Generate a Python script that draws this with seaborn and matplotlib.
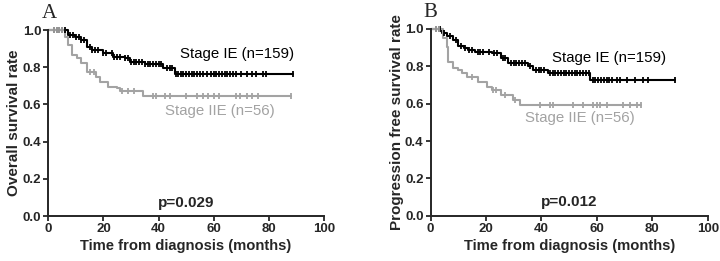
import pandas as pd
import matplotlib
matplotlib.use('Agg')
import matplotlib.pyplot as plt
import seaborn as sns
import numpy as np

sns.set_style('ticks')
plt.rcParams['font.family'] = ['Liberation Sans', 'DejaVu Sans']

# Panel A - overall survival
a_ie_times = [0, 7, 9.7, 12, 14, 15.7, 19.8, 23.5, 27.8, 29.6, 35, 41.5, 46]
a_ie_surv = [1.0, 0.975, 0.96, 0.946, 0.91, 0.89, 0.875, 0.857, 0.848, 0.83, 0.815, 0.797, 0.766]
a_ie_cens = [2, 3, 4, 5, 6, 8, 9, 10, 11, 12, 13, 15, 16, 17, 18, 20, 21, 23, 24, 25, 26, 28, 29,
             30, 31, 32, 33, 34, 35, 36, 37, 38, 39, 40, 41, 43, 44, 45, 46.5, 47, 48, 49, 50, 51,
             52, 53, 54, 55, 56, 57.5, 59, 60, 61, 62, 63, 64, 65, 66, 67, 68, 70, 72, 74,
             75.5, 78, 79, 88.8]
a_iie_times = [0, 6, 7.2, 8.5, 10.3, 12, 14, 17.5, 18.7, 21.6, 24.8, 26, 34.5]
a_iie_surv = [1.0, 0.96, 0.92, 0.866, 0.85, 0.82, 0.776, 0.75, 0.72, 0.695, 0.686, 0.674, 0.647]
a_iie_cens = [2, 3, 4, 5, 15, 16.5, 26.6, 29, 31, 38, 39, 42.5, 44, 50, 54, 56, 58, 60, 62,
              68, 69.5, 72, 74, 76, 88]

# Panel B - progression free survival
b_ie_times = [0, 4, 6, 8, 10, 12, 13.5, 16, 22, 25.5, 28, 35, 37, 42.4, 57.5]
b_ie_surv = [1.0, 0.98, 0.96, 0.94, 0.91, 0.90, 0.886, 0.878, 0.87, 0.843, 0.817, 0.80, 0.78, 0.763, 0.728]
b_ie_cens = [2, 3, 3.5, 5, 7, 9, 11, 12.5, 14, 15, 17, 18, 19, 21, 23, 24, 26, 27, 29, 30, 31,
             32, 33, 34, 36, 38, 39, 40, 41, 43, 44, 45, 46, 47, 48, 49, 50, 51, 52, 53, 54,
             55, 56, 57, 58.5, 59.5, 60.5, 61.5, 62.5, 63.5, 64.5, 65.5, 67.2, 68.3, 70.8,
             73.8, 76.8, 78.6, 88.2]
b_iie_times = [0, 4.5, 5.8, 6.4, 8, 10, 11.2, 13, 17, 20.5, 22, 25.5, 29.8, 32.3]
b_iie_surv = [1.0, 0.95, 0.905, 0.825, 0.79, 0.78, 0.763, 0.745, 0.718, 0.69, 0.673, 0.646, 0.62, 0.593]
b_iie_cens = [2, 3, 15, 22.5, 23.5, 27, 30.5, 39.5, 43, 44, 51.4, 55, 58.6, 60, 61, 63.6,
              69.6, 72, 74.5, 76]

groups = ['Stage IE (n=159)', 'Stage IIE (n=56)']
colors = {'Stage IE (n=159)': 'black', 'Stage IIE (n=56)': '#a3a3a3'}


def km_frame(times, surv, cens, name):
    t = list(times) + [max(cens)]
    s = list(surv) + [surv[-1]]
    return pd.DataFrame({'time': t, 'surv': s, 'group': name})


def cens_level(times, surv, cens):
    idx = np.searchsorted(times, cens, side='right') - 1
    return np.array(surv)[idx]


fig = plt.figure(figsize=(7.2, 2.61), dpi=100)
axA = fig.add_axes([0.067, 0.1724, 0.383, 0.7126])
axB = fig.add_axes([0.598, 0.1736, 0.385, 0.7153])

panels = [
    (axA, [(a_ie_times, a_ie_surv, a_ie_cens), (a_iie_times, a_iie_surv, a_iie_cens)],
     'Overall survival rate', 'p=0.029', 'A', [(89, 0.87), (82, 0.565)], 0.07),
    (axB, [(b_ie_times, b_ie_surv, b_ie_cens), (b_iie_times, b_iie_surv, b_iie_cens)],
     'Progression free survival rate', 'p=0.012', 'B', [(85, 0.845), (73.8, 0.523)], 0.075),
]

for ax, curves, ylab, ptxt, letter, lab_pos, py in panels:
    df = pd.concat([km_frame(t, s, c, g) for (t, s, c), g in zip(curves, groups)])
    sns.lineplot(data=df, x='time', y='surv', hue='group', palette=colors, ax=ax,
                 drawstyle='steps-post', estimator=None, sort=False, legend=False,
                 lw=1.5, clip_on=False)
    for (t, s, c), g in zip(curves, groups):
        ax.plot(c, cens_level(t, s, c), ls='none', marker='|', ms=5, mew=1.3,
                color=colors[g], clip_on=False)
    for g, (x, y) in zip(groups, lab_pos):
        ax.text(x, y, g, ha='right', va='center', fontsize=10.8, color=colors[g])
    ax.text(50, py, ptxt, ha='center', va='center', fontsize=11, fontweight='bold')
    ax.text(-2.5, 1.09, letter, ha='left', va='center', fontsize=15,
            family=['Liberation Serif', 'DejaVu Serif'], transform=ax.transData, clip_on=False)
    ax.set_xlim(0, 100)
    ax.set_ylim(0, 1.0)
    ax.set_xticks(np.arange(0, 101, 20))
    ax.set_yticks(np.arange(0, 1.01, 0.2))
    ax.set_yticklabels(['%.1f' % v for v in np.arange(0, 1.01, 0.2)])
    ax.tick_params(direction='out', length=3.5, width=1.3, labelsize=9.5, pad=1.5)
    for lbl in ax.get_xticklabels() + ax.get_yticklabels():
        lbl.set_fontweight('bold')
    ax.set_xlabel('Time from diagnosis (months)', fontsize=10.6, fontweight='bold', labelpad=3)
    ax.set_ylabel(ylab, fontsize=11, fontweight='bold', labelpad=1)
    sns.despine(ax=ax)
    for sp in ['left', 'bottom']:
        ax.spines[sp].set_linewidth(1.4)

plt.savefig('out.png', dpi=100)
